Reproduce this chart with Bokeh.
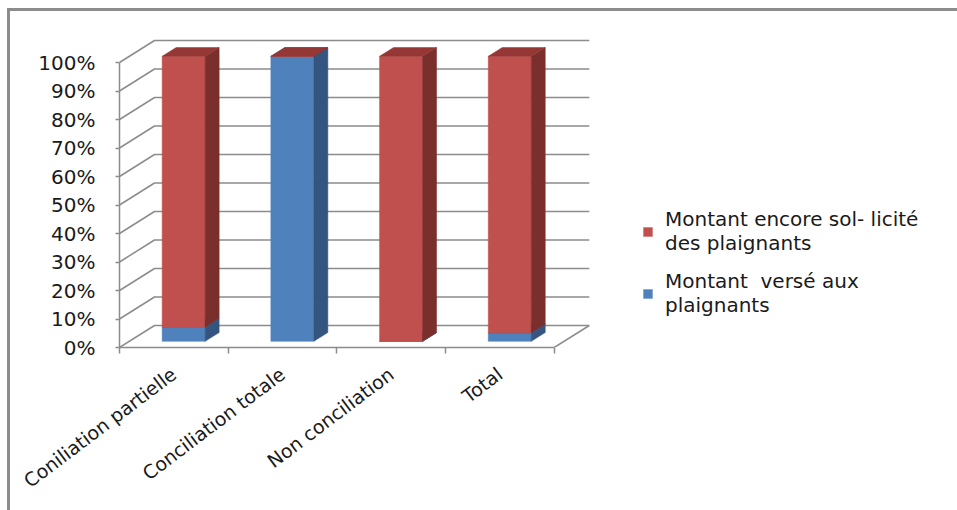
from bokeh.plotting import figure
from bokeh.models import Range1d, FixedTicker, PrintfTickFormatter, Legend, LegendItem
from bokeh.embed import file_html
from bokeh.resources import INLINE

# ---------------- data ----------------
categories = ["Coniliation partielle", "Conciliation totale", "Non conciliation", "Total"]
montant_verse = [5, 100, 0, 3]          # blue, bottom segment (%)
montant_encore = [95, 0, 100, 97]       # red, top segment (%)
series_labels = ["Montant  versé aux\nplaignants",
                 "Montant encore sol- licité\ndes plaignants"]
y_ticks = [0, 10, 20, 30, 40, 50, 60, 70, 80, 90, 100]

# ---------------- styles / geometry ----------------
W, H = 957, 510
B_LEFT, B_TOP, B_BOTTOM, B_RIGHT = 119, 30, 163, 10
PX_CAT, PX_PCT = 108.7, 2.85
DX, DY = 35 / PX_CAT, 22 / PX_PCT      # depth of the 3D box in data units
F0, F1 = 0.28, 0.68                      # bar front / back depth fractions
HW = 43 / PX_CAT / 2                     # half bar width
GRID = "#8c8c8c"
face = {"blue": "#4F81BD", "red": "#C0504D"}
side = {"blue": "#34557F", "red": "#7B2F2D"}
top = {"blue": "#3B6092", "red": "#953735"}
FONT = "DejaVu Sans"

frame_w = W - B_LEFT - B_RIGHT
frame_h = H - B_TOP - B_BOTTOM

p = figure(width=W, height=H, output_backend="svg", toolbar_location=None,
           x_range=Range1d(0, frame_w / PX_CAT), y_range=Range1d(0, frame_h / PX_PCT),
           min_border_left=B_LEFT, min_border_top=B_TOP,
           min_border_bottom=B_BOTTOM, min_border_right=B_RIGHT)
p.outline_line_color = None
p.xgrid.visible = False
p.ygrid.visible = False
p.background_fill_color = "white"
p.border_fill_alpha = 0
# outer chart border (left and top edges visible), painted behind the transparent canvas
p.styles = {
    "background-color": "#ffffff",
    "background-image": "linear-gradient(#8c8c8c, #8c8c8c), linear-gradient(#8c8c8c, #8c8c8c)",
    "background-position": "7px 8px, 7px 8px",
    "background-size": "3px 700px, 1200px 3px",
    "background-repeat": "no-repeat, no-repeat",
}

# ---------------- walls & floor gridlines ----------------
n = len(categories)
gx, gy = [], []
for t in y_ticks:
    gx.append([0, DX, n + DX])
    gy.append([t, t + DY, t + DY])
gx.append([n, n + DX])
gy.append([0, DY])
p.multi_line(gx, gy, line_color=GRID, line_width=1.5)

# ---------------- 3D stacked bars ----------------
d = F1 - F0
renderers = {}
bottoms = [0] * n
for key, vals in (("blue", montant_verse), ("red", montant_encore)):
    fx, fy, sx, sy, tx, ty = [], [], [], [], [], []
    for i, v in enumerate(vals):
        b = bottoms[i]
        xl = i + 0.5 - HW + F0 * DX
        xr = i + 0.5 + HW + F0 * DX
        yb = b + F0 * DY
        yt = b + v + F0 * DY
        fx.append([xl, xr, xr, xl]); fy.append([yb, yb, yt, yt])
        sx.append([xr, xr + d * DX, xr + d * DX, xr])
        sy.append([yb, yb + d * DY, yt + d * DY, yt])
        tx.append([xl, xr, xr + d * DX, xl + d * DX])
        ty.append([yt, yt, yt + d * DY, yt + d * DY])
        bottoms[i] = b + v
    renderers[key] = p.patches(fx, fy, fill_color=face[key], line_color=face[key], line_width=0.5)
    p.patches(sx, sy, fill_color=side[key], line_color=side[key], line_width=0.5)
    p.patches(tx, ty, fill_color=top[key], line_color=top[key], line_width=0.5)

# ---------------- axes ----------------
xa = p.xaxis[0]
xa.ticker = FixedTicker(ticks=[i + 0.5 for i in range(n)], minor_ticks=list(range(n + 1)))
xa.major_label_overrides = {i + 0.5: c for i, c in enumerate(categories)}
xa.major_label_orientation = 0.646
xa.major_tick_line_color = None
xa.major_tick_out = 0
xa.major_tick_in = 0
xa.minor_tick_line_color = GRID
xa.minor_tick_line_width = 1.5
xa.minor_tick_out = 6
xa.minor_tick_in = 0
xa.axis_line_color = GRID
xa.axis_line_width = 1.5
xa.bounds = (0, n)
xa.major_label_standoff = 18
xa.major_label_text_font = FONT
xa.major_label_text_font_size = "19px"
xa.major_label_text_color = "#1a1a1a"

ya = p.yaxis[0]
ya.ticker = FixedTicker(ticks=y_ticks, minor_ticks=[])
ya.formatter = PrintfTickFormatter(format="%d%%")
ya.bounds = (0, 100)
ya.major_tick_out = 4
ya.major_tick_in = 0
ya.major_tick_line_color = GRID
ya.major_tick_line_width = 1.5
ya.axis_line_color = GRID
ya.axis_line_width = 1.5
ya.major_label_standoff = 20
ya.major_label_text_font = FONT
ya.major_label_text_font_size = "20px"
ya.major_label_text_color = "#1a1a1a"

# ---------------- legend ----------------
legend = Legend(items=[LegendItem(label=series_labels[1], renderers=[renderers["red"]]),
                       LegendItem(label=series_labels[0], renderers=[renderers["blue"]])],
                location=(523, 30), glyph_width=11, glyph_height=11,
                label_standoff=12, spacing=14, padding=0, margin=0,
                border_line_color=None, background_fill_alpha=0,
                label_text_font=FONT, label_text_font_size="20px",
                label_text_color="#1a1a1a")
p.add_layout(legend)

open("out.html", "w").write(file_html(p, INLINE))
